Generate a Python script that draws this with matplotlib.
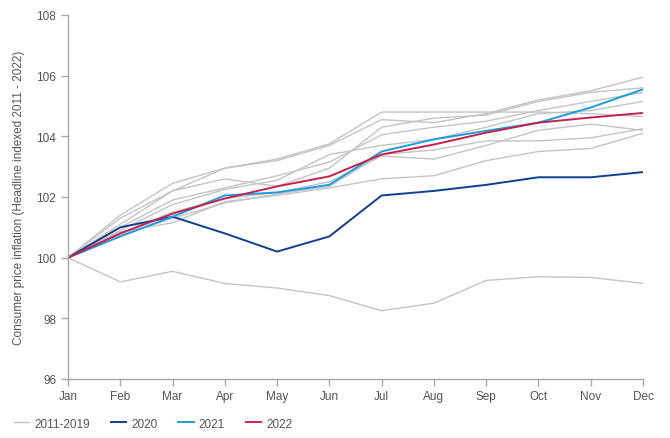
import numpy as np
import matplotlib
matplotlib.use('Agg')
import matplotlib.pyplot as plt

plt.rcParams['font.family'] = ['Liberation Sans', 'DejaVu Sans']

months = ['Jan', 'Feb', 'Mar', 'Apr', 'May', 'Jun', 'Jul', 'Aug', 'Sep', 'Oct', 'Nov', 'Dec']

# 2011-2019 (grey bundle)
y2011_2019 = [
    [100, 101.40, 102.45, 102.95, 103.25, 103.75, 104.80, 104.80, 104.80, 104.80, 104.75, 104.65],
    [100, 101.30, 102.20, 102.95, 103.20, 103.70, 104.55, 104.45, 104.75, 105.20, 105.50, 105.95],
    [100, 101.10, 102.20, 102.60, 102.35, 102.95, 104.30, 104.60, 104.70, 105.15, 105.45, 105.60],
    [100, 101.00, 101.90, 102.30, 102.70, 103.15, 104.05, 104.30, 104.50, 104.85, 105.15, 105.45],
    [100, 100.90, 101.75, 102.25, 102.55, 103.40, 103.70, 103.90, 104.30, 104.75, 104.85, 105.15],
    [100, 100.80, 101.50, 101.95, 102.15, 102.50, 103.35, 103.25, 103.70, 104.20, 104.40, 104.20],
    [100, 100.75, 101.30, 101.80, 102.10, 102.35, 103.40, 103.55, 103.85, 103.85, 103.95, 104.25],
    [100, 100.85, 101.15, 101.85, 102.05, 102.30, 102.60, 102.70, 103.20, 103.50, 103.60, 104.10],
    [100, 99.20, 99.55, 99.15, 99.00, 98.75, 98.25, 98.50, 99.25, 99.37, 99.35, 99.15],
]
y2020 = [100, 101.00, 101.35, 100.80, 100.20, 100.70, 102.05, 102.20, 102.40, 102.65, 102.65, 102.82]
y2021 = [100, 100.70, 101.35, 102.05, 102.15, 102.40, 103.50, 103.90, 104.18, 104.45, 104.95, 105.55]
y2022 = [100, 100.80, 101.45, 101.95, 102.35, 102.68, 103.40, 103.73, 104.12, 104.45, 104.62, 104.77]

c_grey = '#c4c4c4'
c_2020 = '#0f3f94'
c_2021 = '#1a9ee2'
c_2022 = '#c8204c'
c_axis = '#a8a8a8'
c_text = '#555555'

fig = plt.figure(figsize=(6.70, 4.39), dpi=100)
ax = fig.add_axes([0.1015, 0.1344, 0.8582, 0.8292])

x = np.arange(len(months))
for i, ys in enumerate(y2011_2019):
    ax.plot(x, ys, color=c_grey, lw=1.0, label='2011-2019' if i == 0 else None)
ax.plot(x, y2020, color=c_2020, lw=1.4, label='2020')
ax.plot(x, y2021, color=c_2021, lw=1.4, label='2021')
ax.plot(x, y2022, color=c_2022, lw=1.4, label='2022')

ax.set_xlim(0, 11)
ax.set_ylim(96, 108)
ax.set_xticks(x)
ax.set_xticklabels(months)
ax.set_yticks(np.arange(96, 109, 2))

for s in ['top', 'right']:
    ax.spines[s].set_visible(False)
for s in ['left', 'bottom']:
    ax.spines[s].set_color(c_axis)
    ax.spines[s].set_linewidth(1.0)
ax.tick_params(axis='both', colors=c_axis, labelcolor=c_text, labelsize=8.5,
               length=5, width=1.0, direction='out')
ax.tick_params(axis='x', pad=3)

ax.set_ylabel('Consumer price inflation (Headline indexed 2011 - 2022)',
              color=c_text, fontsize=8.5, labelpad=8)

fig.legend(loc='lower left', bbox_to_anchor=(0.005, -0.005), ncol=4, frameon=False,
           fontsize=8.5, labelcolor=c_text, handlelength=1.3, handletextpad=0.4,
           columnspacing=1.8)

plt.savefig('out.png', dpi=100)
plt.close()
